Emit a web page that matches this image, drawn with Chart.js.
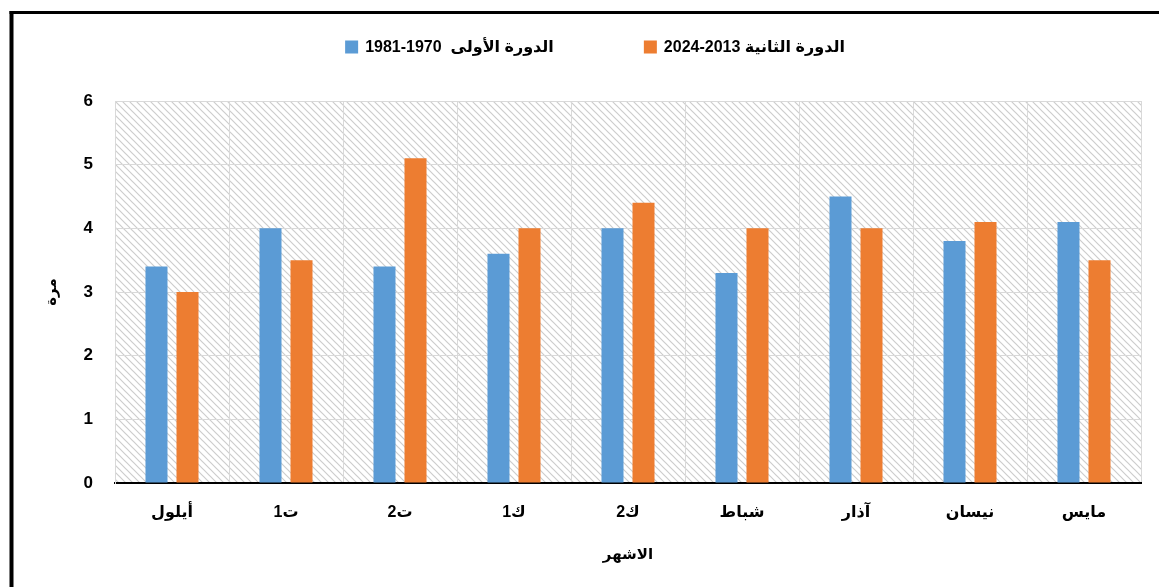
<!DOCTYPE html>
<html lang="ar">
<head>
    <meta charset="UTF-8">
    <title>الدورة الأولى والثانية</title>
    <script src="https://cdn.jsdelivr.net/npm/chart.js"></script>
    <style>
        html, body { margin: 0; padding: 0; background: #fff; }
        #wrap { width: 1159px; height: 587px; }
    </style>
</head>
<body>
    <div id="wrap"><canvas id="chart" width="1159" height="587"></canvas></div>

    <script>
        // les données
        const months = ['أيلول', 'ت1', 'ت2', 'ك1', 'ك2', 'شباط', 'آذار', 'نيسان', 'مايس'];
        const period1 = [3.4, 4.0, 3.4, 3.6, 4.0, 3.3, 4.5, 3.8, 4.1]; // 1970-1981
        const period2 = [3.0, 3.5, 5.1, 4.0, 4.4, 4.0, 4.0, 4.1, 3.5]; // 2013-2024
        const period1Label = '1981-1970  الدورة الأولى';
        const period2Label = '2024-2013 الدورة الثانية';
        const yTicks = [0, 1, 2, 3, 4, 5, 6];

        const FONT = "Arial, 'Liberation Sans', 'DejaVu Sans', sans-serif";

        // motif hachuré pour le fond du graphique
        function makeHatch() {
            const c = document.createElement('canvas');
            c.width = 7; c.height = 7;
            const g = c.getContext('2d');
            g.strokeStyle = '#cdcdcd';
            g.lineWidth = 1.2;
            g.beginPath();
            g.moveTo(-1, -1); g.lineTo(8, 8);
            g.moveTo(-1, 6); g.lineTo(1, 8);
            g.moveTo(6, -1); g.lineTo(8, 1);
            g.stroke();
            return g.createPattern(c, 'repeat');
        }

        const backgroundPlugin = {
            id: 'hatchBg',
            beforeDraw(chart) {
                const {ctx, chartArea: a} = chart;
                ctx.save();
                ctx.fillStyle = '#fff';
                ctx.fillRect(0, 0, chart.width, chart.height);
                ctx.fillStyle = makeHatch();
                ctx.fillRect(a.left, a.top, a.right - a.left, a.bottom - a.top);
                ctx.restore();
            }
        };

        // légende dessinée à la main (espacement large comme dans Excel)
        const legendPlugin = {
            id: 'customLegend',
            afterDraw(chart) {
                const ctx = chart.ctx;
                ctx.save();
                ctx.font = 'bold 16px ' + FONT;
                ctx.textBaseline = 'middle';
                ctx.textAlign = 'left';
                const box = 13, gapText = 7, gapItem = 90, cy = 47;
                const items = chart.data.datasets.map(ds => ({
                    text: ds.label, color: ds.backgroundColor,
                    w: box + gapText + ctx.measureText(ds.label).width
                }));
                const total = items.reduce((s, it) => s + it.w, 0) + gapItem * (items.length - 1);
                let x = 595 - total / 2;
                items.forEach(it => {
                    ctx.fillStyle = it.color;
                    ctx.fillRect(x, cy - box / 2, box, box);
                    ctx.fillStyle = '#000';
                    ctx.fillText(it.text, x + box + gapText, cy + 1);
                    x += it.w + gapItem;
                });
                ctx.restore();
            }
        };

        // cadre noir (gauche + haut)
        const framePlugin = {
            id: 'frame',
            afterDraw(chart) {
                const ctx = chart.ctx;
                ctx.save();
                ctx.strokeStyle = '#000';
                ctx.lineWidth = 4;
                ctx.beginPath();
                ctx.moveTo(11.5, 11);
                ctx.lineTo(11.5, chart.height);
                ctx.stroke();
                ctx.lineWidth = 3;
                ctx.beginPath();
                ctx.moveTo(9.5, 12.5);
                ctx.lineTo(chart.width, 12.5);
                ctx.stroke();
                ctx.restore();
            }
        };

        const ctx = document.getElementById('chart').getContext('2d');
        const chart = new Chart(ctx, {
            type: 'bar',
            data: {
                labels: months,
                datasets: [
                    {
                        label: period1Label,
                        data: period1,
                        backgroundColor: '#5B9BD5',
                        categoryPercentage: 0.544,
                        barPercentage: 0.71
                    },
                    {
                        label: period2Label,
                        data: period2,
                        backgroundColor: '#ED7D31',
                        categoryPercentage: 0.544,
                        barPercentage: 0.71
                    }
                ]
            },
            options: {
                responsive: false,
                animation: false,
                devicePixelRatio: 1,
                layout: { padding: { top: 101, left: 39, right: 18, bottom: 0 } },
                plugins: {
                    legend: { display: false },
                    tooltip: { enabled: false }
                },
                scales: {
                    x: {
                        grid: { color: '#d9d9d9', lineWidth: 1, drawTicks: false, offset: true },
                        border: { display: true, color: '#000', width: 2 },
                        ticks: {
                            color: '#000',
                            padding: 20,
                            maxRotation: 0,
                            font: { family: FONT, size: 16, weight: 'bold' }
                        },
                        title: {
                            display: true,
                            text: 'الاشهر',
                            color: '#000',
                            padding: { top: 0, bottom: 23 },
                            font: { family: FONT, size: 15, weight: 'bold' }
                        },
                        afterFit(scale) { scale.height = 104; }
                    },
                    y: {
                        min: 0,
                        max: 6,
                        afterBuildTicks(scale) { scale.ticks = yTicks.map(v => ({ value: v })); },
                        grid: { color: '#d9d9d9', lineWidth: 1, drawTicks: false },
                        border: { display: true, color: '#d9d9d9' },
                        ticks: {
                            color: '#000',
                            padding: 22,
                            font: { family: FONT, size: 17, weight: 'bold' }
                        },
                        title: {
                            display: true,
                            text: 'مرة',
                            color: '#000',
                            padding: { top: 4, bottom: 0 },
                            font: { family: FONT, size: 15, weight: 'bold' }
                        },
                        afterFit(scale) { scale.width = 115 - 39; }
                    }
                }
            },
            plugins: [backgroundPlugin, legendPlugin, framePlugin]
        });
    </script>
</body>
</html>
